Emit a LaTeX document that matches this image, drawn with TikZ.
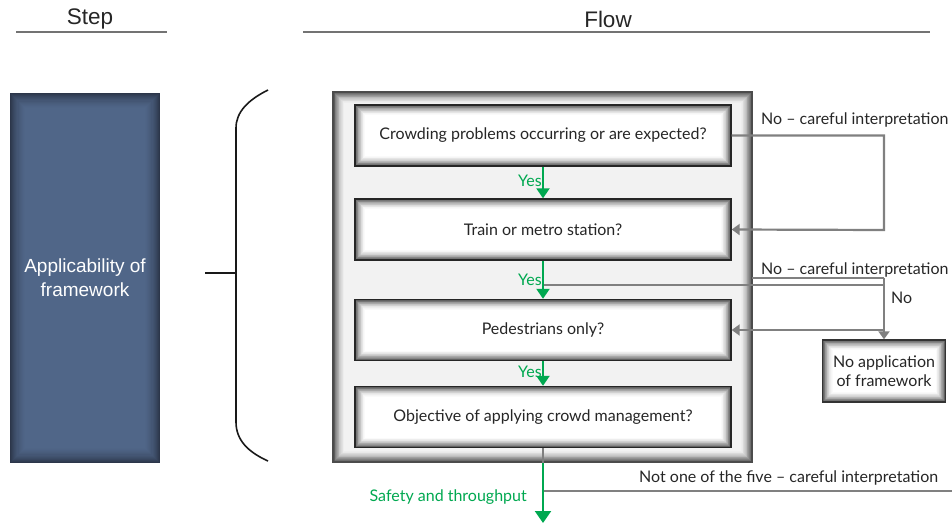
\documentclass[tikz,border=0pt]{standalone}
\usepackage{fontspec}
\setmainfont{Liberation Sans}
\newfontfamily\boxfont{Lato}
\usetikzlibrary{arrows.meta}
\definecolor{grn}{RGB}{0,168,80}
\definecolor{conn}{RGB}{128,128,128}
\definecolor{bluemid}{RGB}{80,102,136}
\definecolor{bluedark}{RGB}{28,34,48}
\colorlet{outerbg}{black!5}
\colorlet{innerbg}{white}
\tikzset{
  glow/.style n args={3}{path picture={
    \foreach \k/\c in {0/70,1/62,2/54,3/47,4/40,5/34,6/28,7/23,8/18,9/14,10/10,11/7,12/4,13/2}{
      \pgfmathsetmacro{\d}{0.4+\k*#3}
      \draw[line width=#3 pt+0.2pt, #1!\c!#2]
        ([xshift=\d pt,yshift=-\d pt]path picture bounding box.north west) rectangle
        ([xshift=-\d pt,yshift=\d pt]path picture bounding box.south east);}
  }},
  qbox/.style={draw=black!85, line width=1.4pt, fill=innerbg, glow={black}{innerbg}{0.7},
    minimum width=376pt, minimum height=61pt, inner sep=0pt,
    font=\boxfont\fontsize{16}{19}\selectfont, text=black!85},
  outerbox/.style={draw=black!70, line width=1.6pt, fill=outerbg, glow={black}{outerbg}{0.8},
    minimum width=419pt, minimum height=370pt, inner sep=0pt},
  bluebox/.style={fill=bluemid, glow={bluedark}{bluemid}{1.1}, minimum width=150pt,
    minimum height=370pt, inner sep=0pt, text=white, align=center,
    font=\fontsize{19}{24}\selectfont},
  naybox/.style={draw=black!80, line width=1.4pt, fill=innerbg, glow={black}{innerbg}{0.7},
    minimum width=123pt, minimum height=62pt, inner sep=0pt, align=center,
    font=\boxfont\fontsize{16}{19}\selectfont, text=black!85},
  gc/.style={draw=conn, line width=2.2pt},
  garr/.style={-{Triangle[length=8pt,width=11pt]}},
  ga/.style={draw=grn, line width=2.2pt, -{Triangle[length=10pt,width=13pt]}},
  yes/.style={text=grn, anchor=east, inner sep=1pt, font=\boxfont\fontsize{16}{19}\selectfont},
  lbl/.style={text=black!85, anchor=west, inner sep=1pt, font=\boxfont\fontsize{16}{19}\selectfont},
  head/.style={font=\fontsize{22.5}{26}\selectfont, text=black!85},
  hline/.style={draw=black!55, line width=2.5pt}
}
\begin{document}
\begin{tikzpicture}[x=1pt,y=-1pt]
\useasboundingbox (0,0) rectangle (952,524);
% headers
\node[head] (hstep) at (90,19) {Step};
\node[head] (hflow) at (608,19) {Flow};
\draw[hline] (16,32) -- (167,32);
\draw[hline] (303,32) -- (930,32);
% step box
\node[bluebox] (app) at (85,278) {Applicability of\\framework};
% brace
\draw[line width=1.6pt, black!90] (268,90) .. controls (248,100) and (236,112) .. (236,128)
  -- (236,422) .. controls (236,440) and (248,452) .. (268,461);
\draw[line width=1.6pt, black!90] (205,273) -- (236,273);
% outer box
\node[outerbox] (outer) at (542.5,277) {};
% question boxes
\node[qbox] (b1) at (543,135.5) {Crowding problems occurring or are expected?};
\node[qbox] (b2) at (543,229.5) {Train or metro station?};
\node[qbox] (b3) at (543,330) {Pedestrians only?};
\node[qbox] (b4) at (543,417) {Objective of applying crowd management?};
\node[naybox] (nay) at (884,371) {No application\\of framework};
% coordinates
\coordinate (c1) at (884,230);
\coordinate (c2a) at (752,278);
\coordinate (c2b) at (884,278);
\coordinate (y2) at (543,285);
\coordinate (c3) at (884,330);
\coordinate (y4) at (543,491);
\coordinate (rend) at (952,491);
\coordinate (endS) at (543,523);
% gray connectors
\draw[gc, garr] (b1.east) -| (c1) -- (b2.east);
\draw[gc] (c2a) -- (c2b);
\draw[gc] (y2) -- (c2b |- y2);
\draw[gc, garr] (c2b) -- (nay.north);
\draw[gc, garr] (c3) -- (b3.east);
\draw[gc] (y4) -- (rend);
\draw[gc] (b4.south) -- (b4.south |- outer.south);
% green arrows
\draw[ga] (b1.south) -- (b2.north);
\draw[ga] (b2.south) -- (b3.north);
\draw[ga] (b3.south) -- (b4.north);
\draw[ga, -{Triangle[length=12pt,width=16pt]}] (b4.south |- outer.south) -- (endS);
% labels
\node[yes] (yes1) at (543,181) {Yes};
\node[yes] (yes2) at (543,280) {Yes};
\node[yes] (yes3) at (543,372) {Yes};
\node[yes] (safe) at (528,497) {Safety and throughput};
\node[lbl] (l1) at (760,120) {No – careful interpretation};
\node[lbl] (l2) at (760,270) {No – careful interpretation};
\node[lbl] (l3) at (890,298) {No};
\node[lbl] (l4) at (638,478) {Not one of the five – careful interpretation};
\end{tikzpicture}
\end{document}
